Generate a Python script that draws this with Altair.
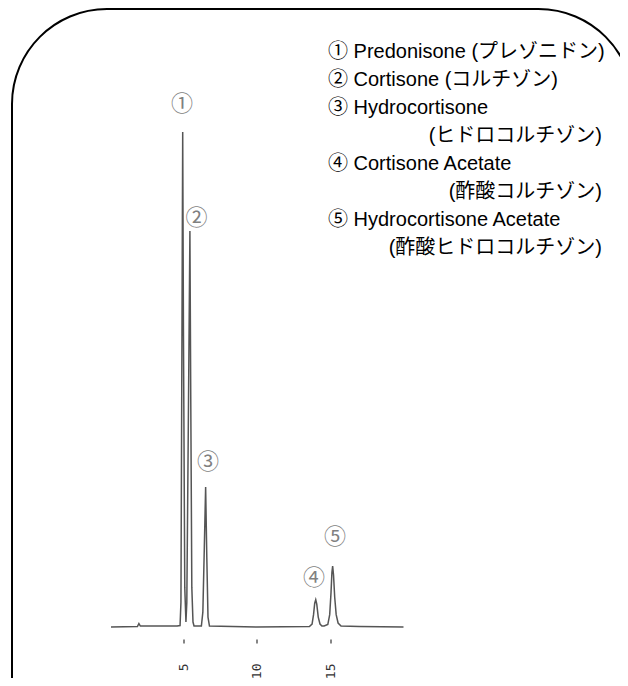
import altair as alt
import pandas as pd

# ---- chromatogram trace (retention time [min], detector signal [rel.]) ----
trace_time = [0.1, 1.9, 2.0, 2.1, 4.6, 4.80, 4.86, 4.93, 4.98, 5.03, 5.12, 5.20,
              5.26, 5.36, 5.47, 5.53, 5.60, 5.68, 5.75,
              6.25, 6.35, 6.45, 6.54, 6.62, 6.70, 6.80,
              10.0, 13.6, 13.78, 13.88, 13.96, 14.03, 14.10, 14.20, 14.32, 14.45,
              14.6, 14.85, 14.98, 15.07, 15.13, 15.18, 15.24, 15.32, 15.42, 15.55, 15.75,
              17.0, 20.0]
trace_signal = [0.0, 0.1, 0.7, 0.2, 0.2, 0.3, 5.0, 60.0, 100.0, 60.0, 8.0, 1.0,
                5.0, 40.0, 80.0, 45.0, 8.0, 1.0, 0.2,
                0.2, 3.0, 16.0, 28.3, 14.0, 2.0, 0.2,
                0.0, 0.1, 0.6, 2.5, 4.8, 5.5, 4.6, 2.0, 0.6, 0.2,
                0.2, 0.5, 2.5, 7.0, 11.0, 12.3, 10.5, 6.0, 2.5, 0.8, 0.2,
                0.1, 0.0]

# ---- peaks ----
peak_labels = ["①", "②", "③", "④", "⑤"]
peak_time = [4.98, 5.47, 6.54, 14.03, 15.18]
peak_height = [100.0, 80.0, 28.3, 5.5, 12.3]

# ---- axis ticks ----
tick_values = [5, 10, 15]

# ---- legend text ----
legend_lines = [
    "① Predonisone (プレゾニドン)",
    "② Cortisone (コルチゾン)",
    "③ Hydrocortisone",
    "(ヒドロコルチゾン)",
    "④ Cortisone Acetate",
    "(酢酸コルチゾン)",
    "⑤ Hydrocortisone Acetate",
    "(酢酸ヒドロコルチゾン)",
]
legend_is_sub = [False, False, False, True, False, True, False, True]

trace_df = pd.DataFrame({"time": trace_time, "signal": trace_signal})
peaks_df = pd.DataFrame({"time": peak_time, "height": peak_height, "label": peak_labels})

W, H = 294, 495
PAD = {"left": 101.5, "top": 124, "right": 216.5, "bottom": 51}

xscale = alt.Scale(domain=[0, 20], nice=False, zero=False)
yscale = alt.Scale(domain=[0, 100], nice=False, zero=False)

line = alt.Chart(trace_df).mark_line(color="#555555", strokeWidth=1.5, interpolate="linear").encode(
    x=alt.X("time:Q", scale=xscale,
            axis=alt.Axis(values=tick_values, title=None, domain=False, grid=False,
                          tickSize=4, tickWidth=1.3, tickColor="#444444", offset=12,
                          labelAngle=270, labelPadding=20, labelFont="DejaVu Sans Mono",
                          labelFontSize=13, labelColor="#333333", format="d")),
    y=alt.Y("signal:Q", scale=yscale, axis=None),
)

# peak label offsets (pixels) relative to apex
label_dx = [-0.7, 6.7, 2.3, -1.7, 2.3]
label_dy = [-28, -13, -25, -22, -29]

peak_layers = []
for lab, dx, dy in zip(peak_labels, label_dx, label_dy):
    peak_layers.append(
        alt.Chart(peaks_df).transform_filter(alt.datum.label == lab)
        .mark_text(dx=dx, dy=dy, fontSize=22, font="Noto Sans CJK JP", color="#808080",
                   baseline="middle", align="center")
        .encode(x=alt.X("time:Q", scale=xscale), y=alt.Y("height:Q", scale=yscale),
                text="label:N")
    )

one = pd.DataFrame({"k": [0]})

# frame with rounded corners (decoration)
frame = alt.Chart(one).mark_rect(fillOpacity=0, stroke="black", strokeWidth=2,
                                 cornerRadius=95).encode(
    x=alt.value(-97.5), x2=alt.value(524), y=alt.value(-123), y2=alt.value(700)
)

LEG_FONT = "Liberation Sans, Arial, Noto Sans CJK JP"
legend_layers = []
for i, (txt, sub) in enumerate(zip(legend_lines, legend_is_sub)):
    ypix = -80 + 28 * i
    if sub:
        mk = alt.Chart(one).mark_text(text=txt, align="right", baseline="middle",
                                      fontSize=20, font=LEG_FONT, color="black")
        legend_layers.append(mk.encode(x=alt.value(492.5), y=alt.value(ypix)))
    else:
        mk = alt.Chart(one).mark_text(text=txt, align="left", baseline="middle",
                                      fontSize=20, font=LEG_FONT, color="black")
        legend_layers.append(mk.encode(x=alt.value(218.5), y=alt.value(ypix)))

chart = alt.layer(frame, line, *peak_layers, *legend_layers).properties(
    width=W, height=H, autosize=alt.AutoSizeParams(type="none"), padding=PAD,
    background="white"
).configure_view(strokeWidth=0)

chart.save("out.html", embed_options={"renderer": "svg", "actions": False})
